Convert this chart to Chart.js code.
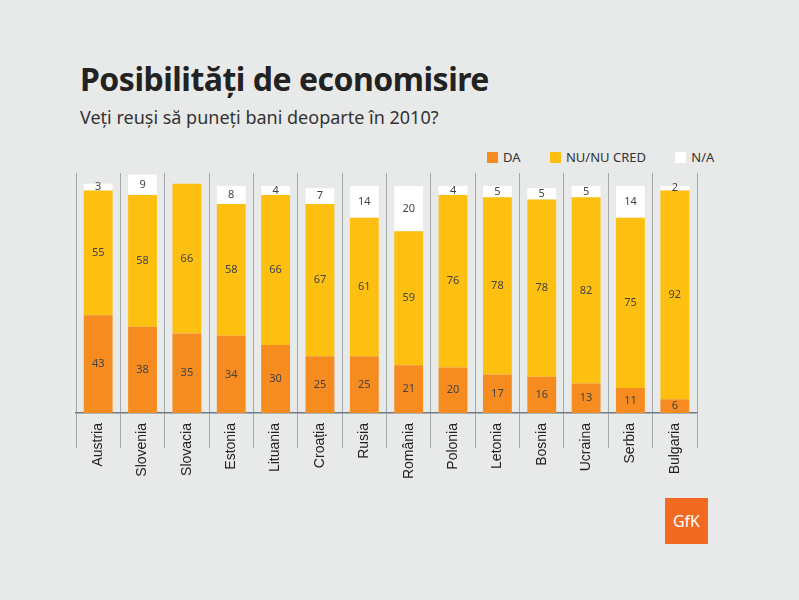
<!DOCTYPE html>
<html>
<head>
<meta charset="utf-8">
<script src="https://cdn.jsdelivr.net/npm/chart.js@4"></script>
<style>
  body { margin: 0; background: #e8e9e9; font-family: "Noto Sans", sans-serif; }
  #wrap { position: relative; width: 799px; height: 600px; }
  #title { position: absolute; left: 80px; top: 57px; font-size: 32px; font-weight: bold; color: #222; letter-spacing: -0.5px; }
  #sub { position: absolute; left: 80px; top: 105px; font-size: 18px; color: #333; }
  #legend { position: absolute; left: 487px; top: 148px; font-size: 13px; color: #333; }
  #legend span.sw { display: inline-block; width: 11px; height: 11px; margin-right: 5px; vertical-align: -1px; }
  #legend span.it { margin-right: 26px; }
  #logo { position: absolute; left: 665px; top: 498px; width: 43px; height: 46px; background: #f26a21; color: #fff; font-size: 16px; text-align: center; line-height: 46px; }
  canvas { position: absolute; left: 0; top: 0; }
</style>
</head>
<body>
<div id="wrap">
  <div id="title">Posibilități de economisire</div>
  <div id="sub">Veți reuși să puneți bani deoparte în 2010?</div>
  <div id="legend">
    <span class="it"><span class="sw" style="background:#f68b1f"></span>DA</span>
    <span class="it"><span class="sw" style="background:#fdc010"></span>NU/NU CRED</span>
    <span><span class="sw" style="background:#fff"></span>N/A</span>
  </div>
  <div id="logo">GfK</div>
  <canvas id="chart" width="799" height="600"></canvas>
</div>
<script>
// Date
const tari = ["Austria", "Slovenia", "Slovacia", "Estonia", "Lituania", "Croația", "Rusia",
  "România", "Polonia", "Letonia", "Bosnia", "Ucraina", "Serbia", "Bulgaria"];
const da = [43, 38, 35, 34, 30, 25, 25, 21, 20, 17, 16, 13, 11, 6];
const nu = [55, 58, 66, 58, 66, 67, 61, 59, 76, 78, 78, 82, 75, 92];
const na = [3, 9, 0, 8, 4, 7, 14, 20, 4, 5, 5, 5, 14, 2];

// Scrie valorile in mijlocul fiecarui segment
const etichete = {
    id: "etichete",
    afterDatasetsDraw(chart) {
        const c = chart.ctx;
        c.save();
        c.font = "11px 'Noto Sans'";
        c.fillStyle = "#444";
        c.textAlign = "center";
        c.textBaseline = "middle";
        chart.data.datasets.forEach((ds, i) => {
            chart.getDatasetMeta(i).data.forEach((bar, j) => {
                if (!ds.data[j]) return;
                c.fillText(ds.data[j], bar.x, (bar.y + bar.base) / 2);
            });
        });
        c.restore();
    }
};

new Chart(document.getElementById("chart"), {
    type: "bar",
    data: {
        labels: tari,
        datasets: [
            { label: "DA", data: da, backgroundColor: "#f68b1f" },
            { label: "NU/NU CRED", data: nu, backgroundColor: "#fdc010" },
            { label: "N/A", data: na, backgroundColor: "#ffffff" }
        ]
    },
    options: {
        responsive: false,
        animation: false,
        layout: { padding: { left: 76, right: 102, top: 173, bottom: 0 } },
        datasets: { bar: { categoryPercentage: 1, barPercentage: 0.65 } },
        plugins: { legend: { display: false }, tooltip: { enabled: false } },
        scales: {
            x: {
                stacked: true,
                afterFit(s) { s.height = 187; },
                grid: { offset: true, color: "#a3a8aa", tickLength: 35, drawOnChartArea: true },
                border: { display: true, color: "#6f7c85", width: 1.5 },
                ticks: { minRotation: 90, maxRotation: 90, padding: -25, color: "#222", font: { size: 14, family: "Liberation Sans" } }
            },
            y: { stacked: true, display: false, min: 0, max: 105.7 }
        }
    },
    plugins: [etichete]
});
</script>
</body>
</html>
